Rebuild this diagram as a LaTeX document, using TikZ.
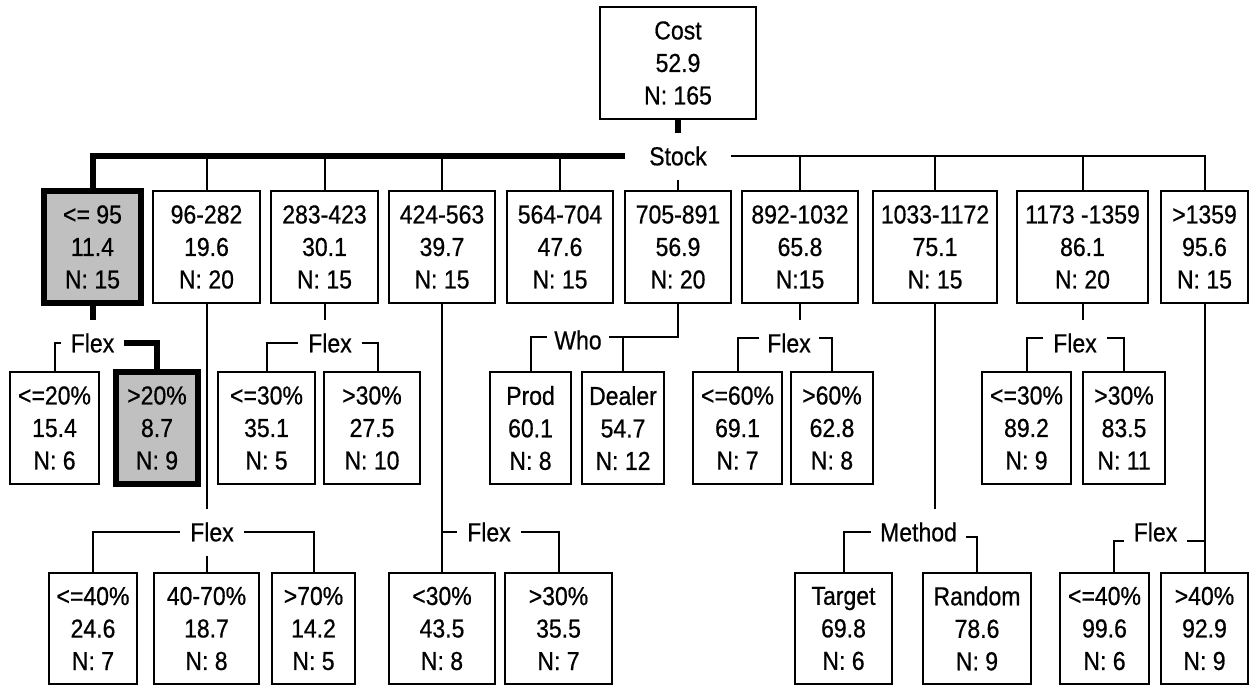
\documentclass[tikz,border=0pt]{standalone}
\usepackage{fontspec}
\setmainfont[FakeStretch=0.885,FakeBold=0.6]{Liberation Sans}
\definecolor{hotgray}{HTML}{C0C0C0}
\newcommand{\bodyfont}{\fontsize{26}{32.5}\selectfont}
\begin{document}
\begin{tikzpicture}[x=1pt,y=-1pt,
  box/.style={draw, line width=2pt, rectangle, inner sep=0pt, align=center,
    font=\bodyfont, minimum height=112pt},
  hot/.style={box, line width=6pt, fill=hotgray},
  lbl/.style={inner xsep=10pt, inner ysep=14pt, text height=18.6pt, text depth=0pt, font=\bodyfont},
  conn/.style={line width=2pt},
  hotconn/.style={line width=6pt},
]
\useasboundingbox (0,0) rectangle (1253,688);

% root
\node[box, minimum width=156pt] (root) at (678,63) {Cost\\52.9\\N: 165};
\node[lbl, inner xsep=24pt] (stock) at (678,156) {Stock};

% level 1
\node[hot, minimum width=97pt] (b1) at (92.5,247) {<= 95\\11.4\\N: 15};
\node[box, minimum width=107pt] (b2) at (206.5,247) {96-282\\19.6\\N: 20};
\node[box, minimum width=107pt] (b3) at (324.5,247) {283-423\\30.1\\N: 15};
\node[box, minimum width=106pt] (b4) at (442,247) {424-563\\39.7\\N: 15};
\node[box, minimum width=106pt] (b5) at (560,247) {564-704\\47.6\\N: 15};
\node[box, minimum width=106pt] (b6) at (678,247) {705-891\\56.9\\N: 20};
\node[box, minimum width=116pt] (b7) at (800,247) {892-1032\\65.8\\N:15};
\node[box, minimum width=124pt] (b8) at (935,247) {1033-1172\\75.1\\N: 15};
\node[box, minimum width=131pt] (b9) at (1082.5,247) {1173 -1359\\86.1\\N: 20};
\node[box, minimum width=87pt] (b10) at (1204.5,247) {>1359\\95.6\\N: 15};

% level 2 labels
\node[lbl] (fA) at (92.5,343) {Flex};
\node[lbl] (f3) at (330,343) {Flex};
\node[lbl, inner xsep=7pt] (who) at (578,340) {Who};
\node[lbl, inner xsep=8pt] (f7) at (789,343) {Flex};
\node[lbl] (f9) at (1075,343) {Flex};

% level 2 boxes
\node[box, minimum width=89pt] (c1a) at (54.5,428) {<=20\%\\15.4\\N: 6};
\node[hot, minimum width=82pt] (c1b) at (157,428) {>20\%\\8.7\\N: 9};
\node[box, minimum width=97pt] (c3a) at (266.5,428) {<=30\%\\35.1\\N: 5};
\node[box, minimum width=96pt] (c3b) at (372,428) {>30\%\\27.5\\N: 10};
\node[box, minimum width=81pt] (c6a) at (530.5,428) {Prod\\60.1\\N: 8};
\node[box, minimum width=82pt] (c6b) at (623,428) {Dealer\\54.7\\N: 12};
\node[box, minimum width=89pt] (c7a) at (737.5,428) {<=60\%\\69.1\\N: 7};
\node[box, minimum width=82pt] (c7b) at (832,428) {>60\%\\62.8\\N: 8};
\node[box, minimum width=89pt] (c9a) at (1026.5,428) {<=30\%\\89.2\\N: 9};
\node[box, minimum width=82pt] (c9b) at (1124,428) {>30\%\\83.5\\N: 11};

% level 3 labels
\node[lbl] (f2) at (212,532) {Flex};
\node[lbl] (f4) at (489,532) {Flex};
\node[lbl, inner xsep=9pt] (f8) at (918.5,532) {Method};
\node[lbl] (f10) at (1155.5,532) {Flex};

% level 3 boxes
\node[box, minimum width=88pt, minimum height=111pt] (g2a) at (93,628.5) {<=40\%\\24.6\\N: 7};
\node[box, minimum width=105pt, minimum height=111pt] (g2b) at (206.5,628.5) {40-70\%\\18.7\\N: 8};
\node[box, minimum width=83pt, minimum height=111pt] (g2c) at (313.5,628.5) {>70\%\\14.2\\N: 5};
\node[box, minimum width=106pt, minimum height=111pt] (c4a) at (442,628.5) {<30\%\\43.5\\N: 8};
\node[box, minimum width=107pt, minimum height=111pt] (c4b) at (558.5,628.5) {>30\%\\35.5\\N: 7};
\node[box, minimum width=97pt, minimum height=111pt] (c8a) at (843.5,628.5) {Target\\69.8\\N: 6};
\node[box, minimum width=108pt, minimum height=111pt] (c8b) at (977,628.5) {Random\\78.6\\N: 9};
\node[box, minimum width=89pt, minimum height=111pt] (c10a) at (1104.5,628.5) {<=40\%\\99.6\\N: 6};
\node[box, minimum width=87pt, minimum height=111pt] (c10b) at (1204.5,628.5) {>40\%\\92.9\\N: 9};

% connectors: root split
\draw[hotconn] (root.south) -- (stock.north);
\draw[hotconn] (stock.west) -| (b1.north);
\draw[conn] (stock.east) -| (b10.north);
\foreach \b in {b2,b3,b4,b5}{\draw[conn] (\b.north) -- (\b.north |- stock.west);}
\foreach \b in {b7,b8,b9}{\draw[conn] (\b.north) -- (\b.north |- stock.east);}
\draw[conn] (stock.south) -- (b6.north);

% b1 split
\draw[hotconn] (b1.south) -- (b1.south |- fA.north);
\draw[conn] (fA.west) -| (c1a.north);
\draw[hotconn] (fA.east) -| (c1b.north);

% b3 split
\draw[conn] (b3.south) -- (b3.south |- f3.north);
\draw[conn] (f3.west) -| (c3a.north);
\draw[conn] (f3.east) -| ([xshift=6pt]c3b.north);

% b6 split
\draw[conn] ([yshift=3pt]who.west) -| (c6a.north);
\draw[conn] (b6.south) |- ([yshift=3pt]who.east);
\draw[conn] ([yshift=3pt]who.east -| c6b.north) -- (c6b.north);

% b7 split
\draw[conn] (b7.south) -- (b7.south |- f7.north);
\draw[conn] ([yshift=5pt]f7.west) -| (c7a.north);
\draw[conn] ([yshift=5pt]f7.east) -| (c7b.north);

% b9 split
\draw[conn] (b9.south) -- (b9.south |- f9.north);
\draw[conn] ([yshift=5pt]f9.west) -| (c9a.north);
\draw[conn] ([yshift=5pt]f9.east) -| (c9b.north);

% b2 split
\draw[conn] (b2.south) -- (b2.south |- f2.north);
\draw[conn] (f2.west) -| (g2a.north);
\draw[conn] (f2.east) -| (g2c.north);
\draw[conn] (f2.south -| g2b.north) -- (g2b.north);

% b4 split
\draw[conn] (b4.south) -- (c4a.north);
\draw[conn] (f4.west) -- (f4.west -| b4.south);
\draw[conn] (f4.east) -| (c4b.north);

% b8 split
\draw[conn] (b8.south) -- (b8.south |- f8.north);
\draw[conn] (f8.west) -| (c8a.north);
\draw[conn] ([yshift=-5pt]f8.east) -| (c8b.north);

% b10 split
\draw[conn] (b10.south) -- (c10b.north);
\draw[conn] ([yshift=-9pt]f10.west) -| ([xshift=9.5pt]c10a.north);
\draw[conn] ([yshift=-9pt]f10.east) -- ([yshift=-9pt]f10.east -| b10.south);
\end{tikzpicture}
\end{document}
